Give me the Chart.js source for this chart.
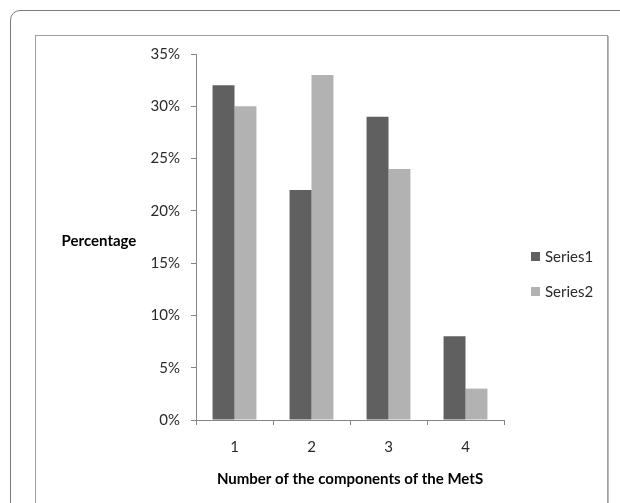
<!DOCTYPE html>
<html>
<head>
<meta charset="utf-8">
<script src="https://cdn.jsdelivr.net/npm/chart.js@4/dist/chart.umd.min.js"></script>
<style>
  html, body { margin: 0; padding: 0; background: #fff; }
  body { width: 620px; height: 503px; position: relative; overflow: hidden; }
  #outer { position: absolute; left: 10px; top: 10px; width: 700px; height: 600px;
           border: 1px solid #7a7a7a; border-radius: 10px; }
  #inner { position: absolute; left: 35px; top: 35px; width: 571px; height: 600px;
           border: 1px solid #a0a0a0; box-shadow: 1px 1px 0 #b8b8b8; }
  #chart { position: absolute; left: 0; top: 0; }
</style>
</head>
<body>
<div id="outer"></div>
<div id="inner"></div>
<canvas id="chart" width="620" height="503"></canvas>
<script>
var categories = ["1", "2", "3", "4"];
var series1 = [32, 22, 29, 8];
var series2 = [30, 33, 24, 3];
var seriesNames = ["Series1", "Series2"];
var yTicks = [0, 5, 10, 15, 20, 25, 30, 35];

var FONT = "Lato, 'Open Sans', sans-serif";

// horizontal y title + legend drawn by hand (Excel style)
var extras = {
    id: 'extras',
    afterDraw: function (chart) {
        var ctx = chart.ctx;
        var area = chart.chartArea;
        ctx.save();
        ctx.font = "bold 15px " + FONT;
        ctx.fillStyle = "#000";
        ctx.textAlign = "center";
        ctx.textBaseline = "middle";
        ctx.fillText("Percentage", area.left - 97, (area.top + area.bottom) / 2 + 4);

        ctx.font = "15px " + FONT;
        ctx.textAlign = "left";
        chart.data.datasets.forEach(function (ds, i) {
            var y = (area.top + area.bottom) / 2 + 20 + i * 35;
            ctx.fillStyle = ds.backgroundColor;
            ctx.fillRect(area.right + 27, y - 5, 9, 9);
            ctx.fillStyle = "#2a2a2a";
            ctx.fillText(ds.label, area.right + 41, y);
        });
        ctx.restore();
    }
};

var barData = {
    labels: categories,
    datasets: [
        { label: seriesNames[0], data: series1, backgroundColor: "#606060" },
        { label: seriesNames[1], data: series2, backgroundColor: "#b2b2b2" }
    ]
};

var barOptions = {
    responsive: false,
    animation: false,
    layout: { padding: { left: 0, top: 54, right: 116, bottom: 0 } },
    categoryPercentage: 0.57,
    barPercentage: 1,
    plugins: { legend: { display: false }, tooltip: { enabled: false } },
    scales: {
        x: {
            afterFit: function (scale) { scale.height = 83; },
            grid: { drawOnChartArea: false, tickLength: 5, color: "#868686" },
            border: { color: "#868686" },
            ticks: { padding: 13, color: "#2a2a2a", font: { family: FONT, size: 15 } },
            title: { display: true, text: "Number of the components of the MetS", color: "#000",
                     font: { family: FONT, size: 15, weight: "bold" }, padding: { top: 0, bottom: 15 } }
        },
        y: {
            min: yTicks[0],
            max: yTicks[yTicks.length - 1],
            afterFit: function (scale) { scale.width = 196; },
            afterBuildTicks: function (scale) {
                scale.ticks = yTicks.map(function (v) { return { value: v }; });
            },
            grid: { drawOnChartArea: false, tickLength: 5, color: "#868686" },
            border: { color: "#868686" },
            ticks: { padding: 11, color: "#2a2a2a", font: { family: FONT, size: 15 },
                     callback: function (v) { return v + "%"; } }
        }
    }
};

new Chart(document.getElementById("chart").getContext("2d"), {
    type: 'bar', data: barData, options: barOptions, plugins: [extras]
});
</script>
</body>
</html>
